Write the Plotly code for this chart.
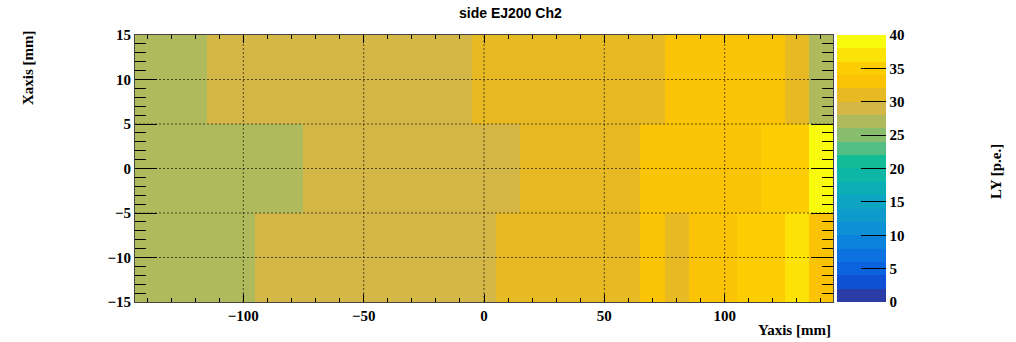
import plotly.graph_objects as go

# ---- data: light yield map, 10 mm bins along Y, 10 mm bins along X ----
y_centers = [-140, -130, -120, -110, -100, -90, -80, -70, -60, -50, -40, -30, -20, -10,
             0, 10, 20, 30, 40, 50, 60, 70, 80, 90, 100, 110, 120, 130, 140]
x_centers = [-10, 0, 10]

ly_row_bottom = [27, 27, 27, 27, 27, 29, 29, 29, 29, 29, 29, 29, 29, 29,
                 29, 31, 31, 31, 31, 31, 31, 33, 31, 33, 33, 35, 35, 37, 33]
ly_row_middle = [27, 27, 27, 27, 27, 27, 27, 29, 29, 29, 29, 29, 29, 29,
                 29, 29, 31, 31, 31, 31, 31, 33, 33, 33, 33, 33, 35, 35, 39]
ly_row_top = [27, 27, 27, 29, 29, 29, 29, 29, 29, 29, 29, 29, 29, 29,
              31, 31, 31, 31, 31, 31, 31, 31, 33, 33, 33, 33, 33, 31, 27]

z_min, z_max = 0, 40
x_ticks = [-100, -50, 0, 50, 100]
y_ticks = [-15, -10, -5, 0, 5, 10, 15]
cb_ticks = [0, 5, 10, 15, 20, 25, 30, 35, 40]

# ---- 20 contour bands of a bird-like palette (blue -> teal -> green -> yellow) ----
band_colors = [
    "#2a3ca6", "#0e50d4", "#0b63e0", "#0b72e0", "#0b82db",
    "#0d90d5", "#0e9bcc", "#0ca4c2", "#0aaeb4", "#0cb7a5",
    "#12bc97", "#55be84", "#88bd6e", "#afba5c", "#d5b748",
    "#e7ba24", "#fbc305", "#fdcd04", "#fde207", "#f9fb0e",
]
n_contours = len(band_colors)

colorscale = []
for i, c in enumerate(band_colors):
    colorscale.append([i / n_contours, c])
    colorscale.append([(i + 1) / n_contours, c])

z = [ly_row_bottom, ly_row_middle, ly_row_top]

serif_bold = dict(family="Liberation Serif", size=15, color="black", weight="bold")

fig = go.Figure(go.Heatmap(
    x=y_centers, y=x_centers, z=z,
    zmin=z_min, zmax=z_max, colorscale=colorscale,
    colorbar=dict(
        x=1.0057, xanchor="left", xpad=0, ypad=0,
        y=0.5, yanchor="middle", len=1, lenmode="fraction",
        thickness=49, thicknessmode="pixels",
        outlinewidth=0,
        tickmode="array", tickvals=cb_ticks,
        ticks="inside", ticklen=25, tickcolor="black", tickwidth=1,
        tickfont=serif_bold,
    ),
    hoverinfo="x+y+z",
))

# dotted grid drawn over the cells
grid = dict(color="rgba(0,0,0,0.6)", width=1, dash="2px,2px")
for xv in x_ticks:
    fig.add_shape(type="line", xref="x", yref="paper", x0=xv, x1=xv, y0=0, y1=1,
                  line=grid, layer="above")
for yv in y_ticks[1:-1]:
    fig.add_shape(type="line", xref="paper", yref="y", x0=0, x1=1, y0=yv, y1=yv,
                  line=grid, layer="above")

fig.update_layout(
    width=1016, height=342,
    margin=dict(l=135, r=183, t=35, b=40),
    paper_bgcolor="white", plot_bgcolor="white",
    showlegend=False,
    xaxis=dict(
        range=[-145, 145], tickmode="array", tickvals=x_ticks,
        ticks="inside", ticklen=8, tickcolor="black",
        minor=dict(ticks="inside", dtick=10, ticklen=4, tickcolor="black", showgrid=False),
        showgrid=False, zeroline=False,
        showline=True, linecolor="#444", linewidth=1, mirror="allticks",
        tickfont=serif_bold, layer="above traces",
    ),
    yaxis=dict(
        range=[-15, 15], tickmode="array", tickvals=y_ticks,
        ticks="inside", ticklen=22, tickcolor="black",
        minor=dict(ticks="inside", dtick=1, ticklen=11, tickcolor="black", showgrid=False),
        showgrid=False, zeroline=False,
        showline=True, linecolor="#444", linewidth=1, mirror="allticks",
        tickfont=serif_bold, layer="above traces",
    ),
    annotations=[
        dict(text="side EJ200 Ch2", xref="paper", yref="paper",
             x=(510 - 135) / 698, y=1 + (35 - 13) / 267, xanchor="center", yanchor="middle",
             showarrow=False,
             font=dict(family="Liberation Sans", size=14, color="black", weight="bold")),
        dict(text="Yaxis [mm]", xref="paper", yref="paper",
             x=1, y=-(330 - 302) / 267, xanchor="right", yanchor="middle",
             showarrow=False, font=serif_bold),
        dict(text="Xaxis [mm]", xref="paper", yref="paper",
             x=-(135 - 28) / 698, y=(302 - 68) / 267, xanchor="center", yanchor="middle",
             textangle=-90, showarrow=False, font=serif_bold),
        dict(text="LY [p.e.]", xref="paper", yref="paper",
             x=(996 - 135) / 698, y=(302 - 172) / 267, xanchor="center", yanchor="middle",
             textangle=-90, showarrow=False, font=serif_bold),
    ],
)

fig.write_html("out.html")
